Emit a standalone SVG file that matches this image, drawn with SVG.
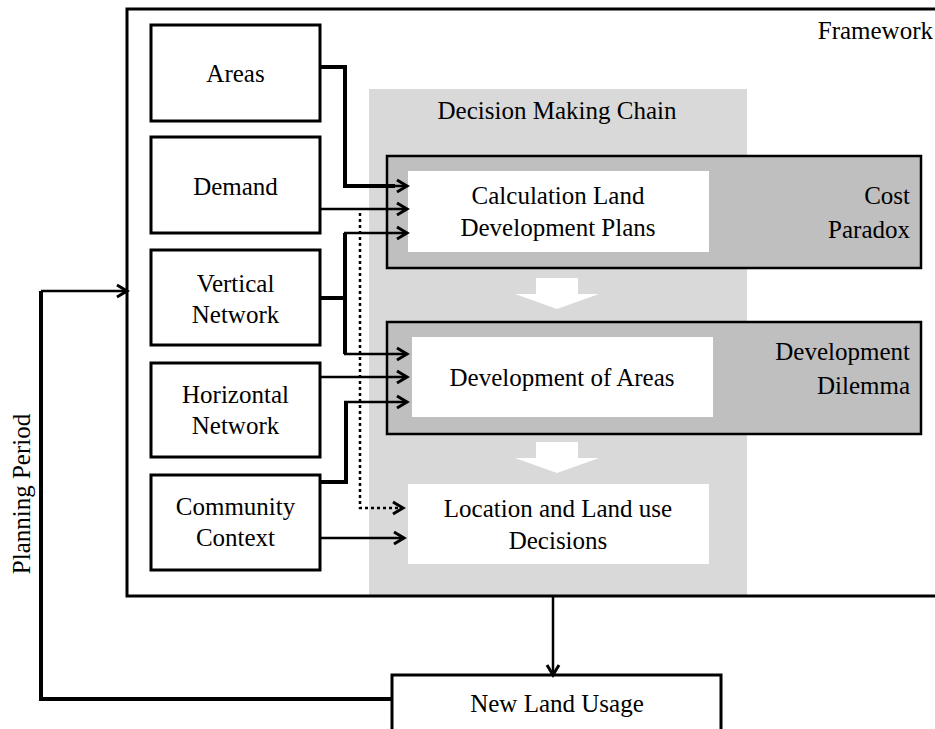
<svg xmlns="http://www.w3.org/2000/svg" width="935" height="729" viewBox="0 0 935 729">
  <defs>
    <marker id="arrow" markerUnits="userSpaceOnUse" markerWidth="16" markerHeight="16" viewBox="-12 -8 14 16" refX="0" refY="0" orient="auto">
      <path d="M-10,-6 L0,0 L-10,6" fill="none" stroke="#000" stroke-width="3"/>
    </marker>
    <style>
      .c { text-anchor: middle; }
      .r { text-anchor: end; }
      .box { fill: #fff; stroke: #000; stroke-width: 3; }
      .panel { fill: #bfbfbf; stroke: #000; stroke-width: 2.5; }
      .inner { fill: #fff; }
      .line { fill: none; stroke: #000; stroke-width: 2.5; }
      .thick { fill: none; stroke: #000; stroke-width: 4; }
      .arr { marker-end: url(#arrow); }
    </style>
  </defs>

  <rect width="935" height="729" fill="#fff"/>

  <g font-family="'Liberation Serif', 'Times New Roman', serif" font-size="25" fill="#000">

  <!-- decision making chain background -->
  <g id="chain">
    <rect x="369" y="89" width="378" height="506" fill="#d9d9d9"/>
    <text class="c" x="557" y="119">Decision Making Chain</text>
  </g>

  <!-- framework frame -->
  <g id="framework">
    <rect x="127" y="9" width="830" height="587" fill="none" stroke="#000" stroke-width="3"/>
    <text class="r" x="933" y="39">Framework</text>
  </g>

  <!-- input factors -->
  <g id="areas">
    <rect class="box" x="151" y="25" width="169" height="96"/>
    <text class="c" x="235.5" y="82">Areas</text>
  </g>
  <g id="demand">
    <rect class="box" x="151" y="137" width="169" height="96"/>
    <text class="c" x="235.5" y="195">Demand</text>
  </g>
  <g id="vertical-network">
    <rect class="box" x="151" y="250" width="169" height="95"/>
    <text class="c" x="235.5" y="292">Vertical</text>
    <text class="c" x="235.5" y="323">Network</text>
  </g>
  <g id="horizontal-network">
    <rect class="box" x="151" y="363" width="169" height="94"/>
    <text class="c" x="235.5" y="403">Horizontal</text>
    <text class="c" x="235.5" y="434">Network</text>
  </g>
  <g id="community-context">
    <rect class="box" x="151" y="475" width="169" height="95"/>
    <text class="c" x="235.5" y="515">Community</text>
    <text class="c" x="235.5" y="546">Context</text>
  </g>

  <!-- chain stages -->
  <g id="cost-paradox">
    <rect class="panel" x="387" y="156" width="534" height="112"/>
    <text class="r" x="910" y="204">Cost</text>
    <text class="r" x="910" y="238">Paradox</text>
  </g>
  <g id="calculation">
    <rect class="inner" x="408" y="171" width="301" height="81"/>
    <text class="c" x="558" y="204">Calculation Land</text>
    <text class="c" x="558" y="236">Development Plans</text>
  </g>
  <g id="development-dilemma">
    <rect class="panel" x="387" y="322" width="534" height="112"/>
    <text class="r" x="910" y="360">Development</text>
    <text class="r" x="910" y="394">Dilemma</text>
  </g>
  <g id="development-of-areas">
    <rect class="inner" x="412" y="337" width="301" height="80"/>
    <text class="c" x="562" y="386">Development of Areas</text>
  </g>
  <g id="location-decisions">
    <rect class="inner" x="408" y="484" width="301" height="80"/>
    <text class="c" x="558" y="517">Location and Land use</text>
    <text class="c" x="558" y="549">Decisions</text>
  </g>
  <g id="new-land-usage">
    <rect class="box" x="392" y="675" width="329" height="70"/>
    <text class="c" x="557" y="712">New Land Usage</text>
  </g>

  <!-- flow arrows between stages -->
  <g id="stage-arrows" fill="#fff">
    <polygon points="536,278 578,278 578,294 599,294 557,309 515,294 536,294"/>
    <polygon points="536,442 578,442 578,458 599,458 557,473 515,458 536,458"/>
  </g>

  <!-- connectors -->
  <g id="connectors">
    <path class="thick" d="M320,67 H345 V186 H395"/>
    <path class="line arr" d="M394,186 H407"/>
    <path class="line arr" d="M320,209 H407"/>
    <path class="thick" d="M320,298 H345"/>
    <path class="thick" d="M345,233 V354"/>
    <path class="line arr" d="M344,233 H407"/>
    <path class="line arr" d="M344,354 H407"/>
    <path class="line arr" d="M320,377 H407"/>
    <path class="thick" d="M320,482 H346 V402"/>
    <path class="line arr" d="M344,402 H407"/>
    <path class="line arr" d="M320,538 H404"/>
    <path class="line arr" d="M360,213 V508 H403" stroke-width="3" stroke-dasharray="3,3"/>
    <path class="line arr" d="M553,597 V675"/>
    <path class="thick" d="M392,699 H41 V291"/>
    <path class="line arr" d="M41,291 H127"/>
  </g>

  <text class="c" transform="translate(30,494) rotate(-90)">Planning Period</text>

  </g>
</svg>
